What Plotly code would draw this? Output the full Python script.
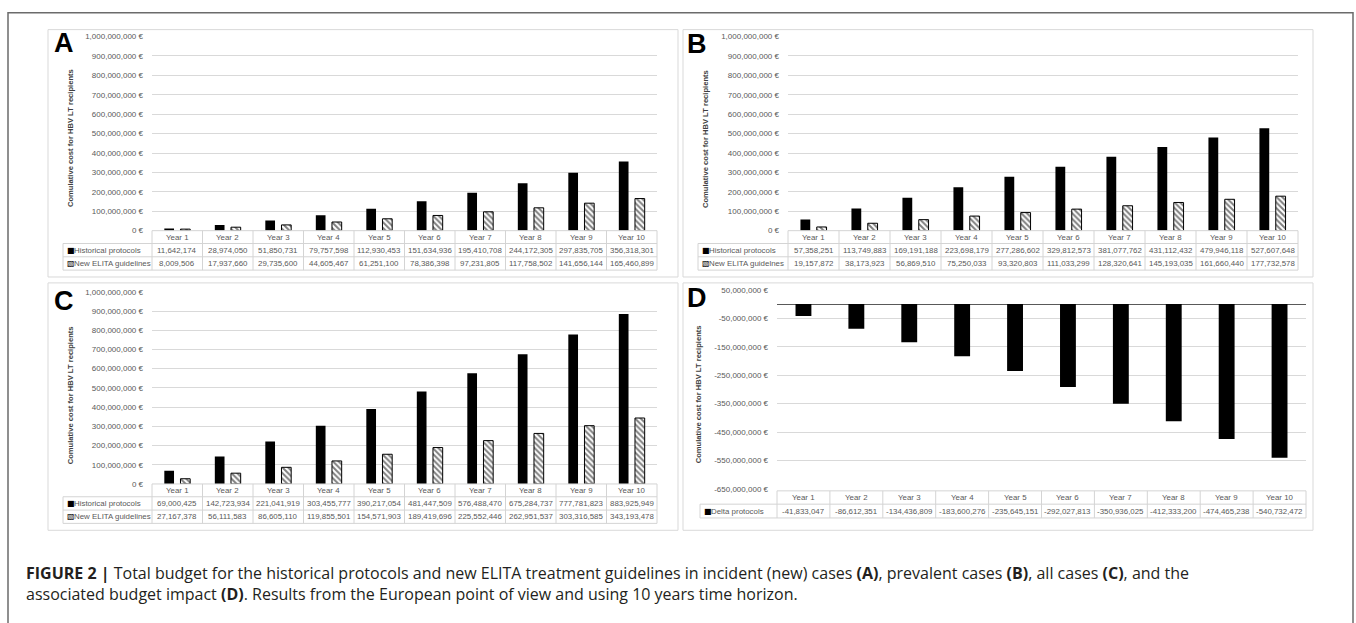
import plotly.graph_objects as go

W, H = 1356, 623

years = ["Year 1", "Year 2", "Year 3", "Year 4", "Year 5",
         "Year 6", "Year 7", "Year 8", "Year 9", "Year 10"]

hist_A = [11642174, 28974050, 51850731, 79757598, 112930453,
          151634936, 195410708, 244172305, 297835705, 356318301]
new_A = [8009506, 17937660, 29735600, 44605467, 61251100,
         78386398, 97231805, 117758502, 141656144, 165460899]

hist_B = [57358251, 113749883, 169191188, 223698179, 277286602,
          329812573, 381077762, 431112432, 479946118, 527607648]
new_B = [19157872, 38173923, 56869510, 75250033, 93320803,
         111033299, 128320641, 145193035, 161660440, 177732578]

hist_C = [69000425, 142723934, 221041919, 303455777, 390217054,
          481447509, 576488470, 675284737, 777781823, 883925949]
new_C = [27167378, 56111583, 86605110, 119855501, 154571903,
         189419696, 225552446, 262951537, 303316585, 343193478]

delta_D = [-41833047, -86612351, -134436809, -183600276, -235645151,
           -292027813, -350936025, -412333200, -474465238, -540732472]

ticks_pos = [0, 100000000, 200000000, 300000000, 400000000, 500000000,
             600000000, 700000000, 800000000, 900000000, 1000000000]
ticks_D = [50000000, -50000000, -150000000, -250000000, -350000000,
           -450000000, -550000000, -650000000]

lbl_hist = "Historical protocols"
lbl_new = "New ELITA guidelines"
lbl_new_B = "New ELITA guidelnes"
lbl_delta = "Delta protocols"
ytitle = "Comulative cost for HBV LT recipients"

GRID = "#d9d9d9"
TBL = "#d4d4d4"
TXT = "#595959"
FONT = "Liberation Sans"
TFS = 7.9


def fx(px):
    return px / W


def fy(py):
    return 1 - py / H


def num(v):
    return f"-{abs(v):,}" if v < 0 else f"{v:,}"


def euro(v):
    return num(v) + " €"


fig = go.Figure()
annotations = []
shapes = []


def add_table(n, px0, px1, yb, tx0, hh, rh, rows):
    """rows: list of (symbol, label, values)"""
    xa = "x" + n
    ncol = len(years)
    cw = (px1 - px0) / ncol
    ybot = yb + hh + rh * len(rows)
    line = dict(color=TBL, width=1)
    shapes.append(dict(type="line", xref="paper", yref="paper", x0=fx(px0), x1=fx(px1),
                       y0=fy(yb), y1=fy(yb), line=line))
    for r in range(len(rows) + 1):
        yy = yb + hh + rh * r
        shapes.append(dict(type="line", xref="paper", yref="paper", x0=fx(tx0), x1=fx(px1),
                           y0=fy(yy), y1=fy(yy), line=line))
    shapes.append(dict(type="line", xref="paper", yref="paper", x0=fx(tx0), x1=fx(tx0),
                       y0=fy(yb + hh), y1=fy(ybot), line=line))
    for c in range(ncol + 1):
        xx = px0 + cw * c
        shapes.append(dict(type="line", xref="paper", yref="paper", x0=fx(xx), x1=fx(xx),
                           y0=fy(yb), y1=fy(ybot), line=line))
    for yr in years:
        annotations.append(dict(text=yr, x=yr, xref=xa, y=fy(yb + hh / 2), yref="paper",
                                showarrow=False, xanchor="center", yanchor="middle",
                                font=dict(family=FONT, size=TFS, color=TXT)))
    for r, (sym, label, vals) in enumerate(rows):
        yc = yb + hh + rh * r + rh / 2
        annotations.append(dict(text=sym, x=fx(tx0 + 1.5), xref="paper", y=fy(yc), yref="paper",
                                showarrow=False, xanchor="left", yanchor="middle",
                                font=dict(family="DejaVu Sans", size=8, color="black")))
        annotations.append(dict(text=label, x=fx(tx0 + 9), xref="paper", y=fy(yc), yref="paper",
                                showarrow=False, xanchor="left", yanchor="middle",
                                font=dict(family=FONT, size=TFS, color=TXT)))
        for yr, v in zip(years, vals):
            annotations.append(dict(text=num(v), x=yr, xref=xa, y=fy(yc), yref="paper",
                                    showarrow=False, xanchor="center", yanchor="middle",
                                    font=dict(family=FONT, size=TFS, color=TXT)))


panels = [
    dict(n="", letter="A", plot_x=(152, 657), plot_y=(33, 230), tx0=63,
         hist=hist_A, new=new_A, lnew=lbl_new, box=(48, 26, 678, 277),
         letter_xy=(64, 40), title_xy=(70, 136)),
    dict(n="2", letter="B", plot_x=(788, 1298), plot_y=(33, 230), tx0=698,
         hist=hist_B, new=new_B, lnew=lbl_new_B, box=(683, 26, 1313, 277),
         letter_xy=(697, 41), title_xy=(705, 137)),
    dict(n="3", letter="C", plot_x=(152, 657), plot_y=(292, 487), tx0=63,
         hist=hist_C, new=new_C, lnew=lbl_new, box=(48, 283, 678, 534),
         letter_xy=(64, 301), title_xy=(70, 397)),
]

hatch = dict(color="white", line=dict(color="black", width=1),
             pattern=dict(shape="\\", fgcolor="black", bgcolor="white",
                          size=4, solidity=0.5))

for p in panels:
    xa = "x" + p["n"]
    ya = "y" + p["n"]
    fig.add_trace(go.Bar(x=years, y=p["hist"], xaxis=xa, yaxis=ya,
                         marker=dict(color="black", line=dict(width=0)),
                         name=lbl_hist, showlegend=False))
    fig.add_trace(go.Bar(x=years, y=p["new"], xaxis=xa, yaxis=ya,
                         marker=hatch, name=p["lnew"], showlegend=False))
    fig.layout["xaxis" + p["n"]] = dict(domain=[fx(p["plot_x"][0]), fx(p["plot_x"][1])],
                                        anchor=ya, type="category", range=[-0.5, 9.5],
                                        showticklabels=False, showgrid=False,
                                        zeroline=False, showline=False, ticks="")
    fig.layout["yaxis" + p["n"]] = dict(domain=[fy(p["plot_y"][1]), fy(p["plot_y"][0])],
                                        anchor=xa, range=[0, 1000000000],
                                        tickmode="array", tickvals=ticks_pos,
                                        ticktext=[euro(v) for v in ticks_pos],
                                        showgrid=True, gridcolor=GRID, gridwidth=1,
                                        zeroline=False, showline=False, ticks="",
                                        ticklabelstandoff=8,
                                        tickfont=dict(family=FONT, size=8, color=TXT))
    add_table(p["n"], p["plot_x"][0], p["plot_x"][1], p["plot_y"][1], p["tx0"], 13, 13.5,
              [("■", lbl_hist, p["hist"]), ("▧", p["lnew"], p["new"])])

# panel D
fig.add_trace(go.Bar(x=years, y=delta_D, xaxis="x4", yaxis="y4", width=0.3,
                     marker=dict(color="black", line=dict(width=0)),
                     name=lbl_delta, showlegend=False))
fig.layout["xaxis4"] = dict(domain=[fx(777), fx(1306)], anchor="y4", type="category",
                            range=[-0.5, 9.5], showticklabels=False, showgrid=False,
                            zeroline=False, showline=False, ticks="")
fig.layout["yaxis4"] = dict(domain=[fy(492), fy(290)], anchor="x4",
                            range=[-650000000, 50000000],
                            tickmode="array", tickvals=ticks_D,
                            ticktext=[euro(v) for v in ticks_D],
                            showgrid=True, gridcolor=GRID, gridwidth=1,
                            zeroline=True, zerolinecolor="#595959", zerolinewidth=1.2,
                            showline=False, ticks="", ticklabelstandoff=8,
                            tickfont=dict(family=FONT, size=8, color=TXT))
add_table("4", 777, 1306, 494, 700, 13.5, 14, [("■", lbl_delta, delta_D)])

all_panels = panels + [dict(letter="D", box=(683, 283, 1313, 534),
                            letter_xy=(697, 298), title_xy=(698, 396))]
for p in all_panels:
    x0, y0, x1, y1 = p["box"]
    shapes.append(dict(type="rect", xref="paper", yref="paper",
                       x0=fx(x0), x1=fx(x1), y0=fy(y1), y1=fy(y0),
                       line=dict(color="#d9d9d9", width=1), layer="below"))
    lx, ly = p["letter_xy"]
    annotations.append(dict(text="<b>" + p["letter"] + "</b>", x=fx(lx), y=fy(ly),
                            xref="paper", yref="paper", showarrow=False,
                            xanchor="center", yanchor="middle",
                            font=dict(family=FONT, size=27, color="black")))
    tx, ty = p["title_xy"]
    annotations.append(dict(text="<b>" + ytitle + "</b>", x=fx(tx), y=fy(ty),
                            xref="paper", yref="paper", showarrow=False,
                            textangle=-90, xanchor="center", yanchor="middle",
                            font=dict(family=FONT, size=7.6, color="#404040")))

# outer frame
shapes.append(dict(type="rect", xref="paper", yref="paper",
                   x0=fx(8), x1=fx(1353), y0=fy(640), y1=fy(9),
                   line=dict(color="#6b6b6b", width=1.5)))

caption = ("<b>FIGURE 2 |</b> Total budget for the historical protocols and new ELITA treatment "
           "guidelines in incident (new) cases <b>(A)</b>, prevalent cases <b>(B)</b>, all cases "
           "<b>(C)</b>, and the<br>associated budget impact <b>(D)</b>. Results from the European "
           "point of view and using 10 years time horizon.")
annotations.append(dict(text=caption, x=fx(24), y=fy(588), xref="paper", yref="paper",
                        showarrow=False, xanchor="left", yanchor="middle", align="left",
                        font=dict(family="Open Sans", size=16, color="#231f20")))

fig.update_layout(width=W, height=H, margin=dict(l=0, r=0, t=0, b=0),
                  paper_bgcolor="white", plot_bgcolor="white",
                  barmode="group", bargap=0.36, bargroupgap=0.4,
                  showlegend=False, annotations=annotations, shapes=shapes)

fig.write_html("out.html", config={"displayModeBar": False},
               post_script="document.body.style.margin='0px';")
